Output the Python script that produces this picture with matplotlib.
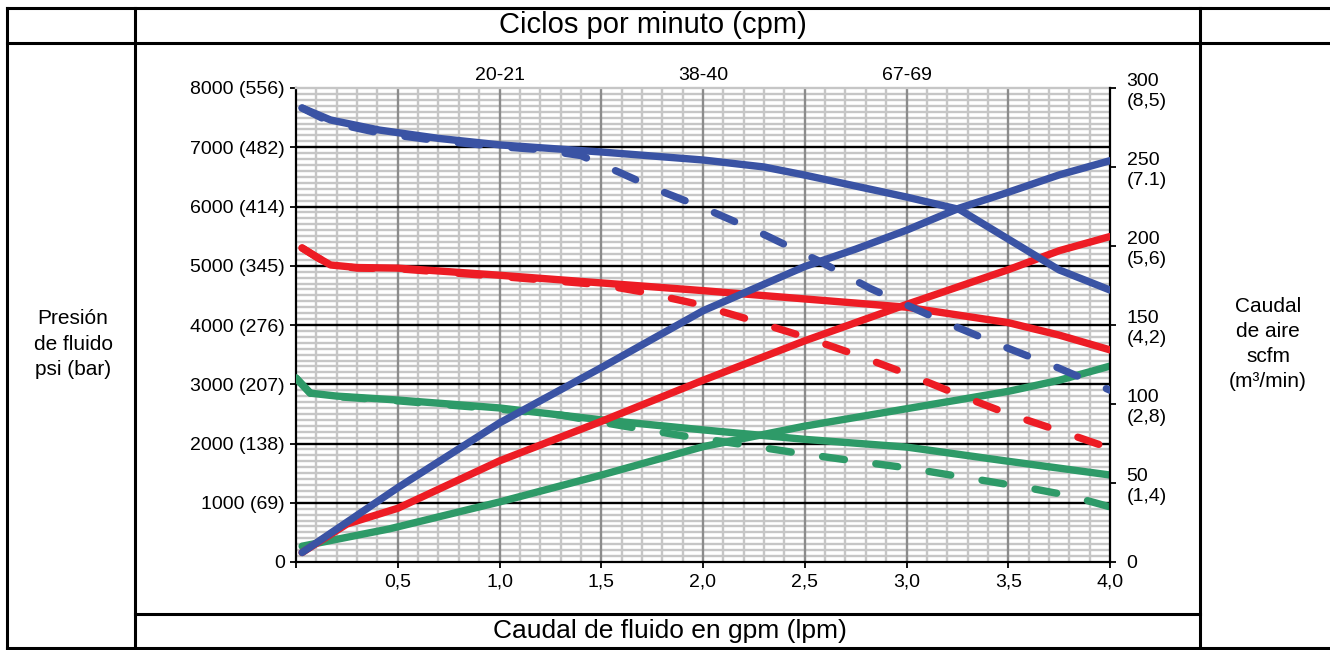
import matplotlib
matplotlib.use("Agg")
import matplotlib.pyplot as plt
from matplotlib.lines import Line2D
from matplotlib.ticker import MultipleLocator

plt.rcParams['font.family'] = ['Liberation Sans', 'DejaVu Sans']

# Fluid pressure curves (psi) vs fluid flow (gpm)
blue_p_x = [0.03, 0.17, 0.41, 0.7, 1.0, 1.5, 2.0, 2.3, 2.5, 2.77, 3.0, 3.26, 3.5, 3.75, 4.0]
blue_p_y = [7662, 7460, 7290, 7150, 7040, 6920, 6785, 6667, 6530, 6330, 6160, 5950, 5450, 4930, 4590]
blue_pd_x = [0.03, 0.17, 0.41, 0.7, 1.0, 1.2, 1.4, 1.6, 1.8, 2.0, 2.28, 2.57, 2.82, 3.16, 3.46, 3.75, 4.0]
blue_pd_y = [7662, 7420, 7240, 7110, 7010, 6960, 6860, 6560, 6250, 5980, 5560, 5080, 4620, 4090, 3660, 3270, 2900]

red_p_x = [0.03, 0.1, 0.17, 0.3, 0.5, 1.0, 1.5, 2.0, 2.5, 3.0, 3.5, 3.75, 4.0]
red_p_y = [5300, 5150, 5013, 4970, 4960, 4840, 4710, 4580, 4440, 4300, 4040, 3830, 3580]
red_pd_x = [0.03, 0.1, 0.17, 0.3, 0.5, 1.0, 1.5, 1.7, 1.95, 2.2, 2.48, 2.75, 3.0, 3.25, 3.5, 3.78, 4.0]
red_pd_y = [5300, 5150, 5013, 4960, 4950, 4820, 4680, 4560, 4370, 4120, 3820, 3500, 3180, 2830, 2500, 2180, 1920]

green_p_x = [0.0, 0.07, 0.2, 0.5, 1.0, 1.5, 2.0, 2.5, 3.0, 3.5, 4.0]
green_p_y = [3105, 2850, 2800, 2734, 2600, 2400, 2230, 2070, 1940, 1700, 1468]
green_pd_x = [0.0, 0.07, 0.2, 0.5, 1.0, 1.3, 1.6, 1.9, 2.2, 2.5, 2.8, 3.0, 3.3, 3.6, 3.8, 4.0]
green_pd_y = [3105, 2850, 2790, 2720, 2580, 2480, 2300, 2130, 1980, 1820, 1680, 1590, 1420, 1250, 1120, 930]

# Air consumption curves (scfm) vs fluid flow (gpm)
blue_a_x = [0.03, 0.5, 1.0, 1.5, 2.0, 2.5, 2.75, 3.0, 3.26, 3.5, 3.75, 4.0]
blue_a_y = [6, 47, 88, 123, 159, 187, 198, 210, 224, 234, 245, 254]
red_a_x = [0.03, 0.25, 0.5, 1.0, 1.5, 2.0, 2.5, 3.0, 3.5, 3.75, 4.0]
red_a_y = [6, 24, 34, 64, 89, 115, 140, 163, 185, 197, 206]
green_a_x = [0.03, 0.46, 1.0, 1.5, 2.0, 2.5, 3.0, 3.5, 3.75, 4.0]
green_a_y = [10, 21, 38, 55, 73, 86, 97, 108, 115, 124]

# tick labels
x_ticks = [0, 0.5, 1.0, 1.5, 2.0, 2.5, 3.0, 3.5, 4.0]
x_labels = ['', '0,5', '1,0', '1,5', '2,0', '2,5', '3,0', '3,5', '4,0']
psi_ticks = [0, 1000, 2000, 3000, 4000, 5000, 6000, 7000, 8000]
psi_labels = ['0', '1000 (69)', '2000 (138)', '3000 (207)', '4000 (276)',
              '5000 (345)', '6000 (414)', '7000 (482)', '8000 (556)']
air_ticks = [0, 50, 100, 150, 200, 250, 300]
air_labels = ['0', '50\n(1,4)', '100\n(2,8)', '150\n(4,2)', '200\n(5,6)',
              '250\n(7.1)', '300\n(8,5)']
cpm_labels = ['20-21', '38-40', '67-69']
cpm_x = [1.0, 2.0, 3.0]

BLUE = '#3a53a4'
RED = '#ed1c24'
GREEN = '#2e9a68'
MINOR = '#c6c6c6'

W, H = 1330, 650
fig = plt.figure(figsize=(W / 100, H / 100), dpi=100)

ax = fig.add_axes([296 / W, (H - 562) / H, 814 / W, 474 / H])
ax.set_xlim(0, 4)
ax.set_ylim(0, 8000)
ax.set_xticks(x_ticks)
ax.set_xticklabels(x_labels)
ax.set_yticks(psi_ticks)
ax.set_yticklabels(psi_labels)
ax.xaxis.set_minor_locator(MultipleLocator(0.1))
ax.yaxis.set_minor_locator(MultipleLocator(100))
ax.set_axisbelow(True)
ax.grid(which='minor', color=MINOR, lw=1.7)
# major grid: dark grey verticals, black horizontals on top
ax.vlines(x_ticks[1:-1], 0, 8000, color='#8c8c8c', lw=1.7, zorder=0.7)
ax.hlines(psi_ticks[1:-1], 0, 4, color='black', lw=1.7, zorder=0.8)
ax.tick_params(which='major', length=4, width=1.3, labelsize=14, pad=4)
ax.tick_params(which='minor', length=0)
for s in ['left', 'bottom']:
    ax.spines[s].set_linewidth(1.6)
ax.spines['top'].set_color(MINOR)
ax.spines['top'].set_linewidth(1.7)
ax.spines['right'].set_visible(False)

ax2 = ax.twinx()
ax2.set_ylim(0, 300)
ax2.set_yticks(air_ticks)
ax2.set_yticklabels(air_labels)
for t in ax2.get_yticklabels():
    t.set_linespacing(1.25)
ax2.tick_params(length=4, width=1.3, labelsize=14, pad=8)
ax2.spines['right'].set_linewidth(1.6)
for s in ['top', 'left', 'bottom']:
    ax2.spines[s].set_visible(False)

lw = 5.3
dash = (0, (3, 4.3))
psi = ax.transData
# pressure lines drawn in psi units, air lines in scfm units, all on ax2 to control stacking
for px, py, pdx, pdy, axx, axy, c, z in [
        (green_p_x, green_p_y, green_pd_x, green_pd_y, green_a_x, green_a_y, GREEN, 2),
        (red_p_x, red_p_y, red_pd_x, red_pd_y, red_a_x, red_a_y, RED, 3),
        (blue_p_x, blue_p_y, blue_pd_x, blue_pd_y, blue_a_x, blue_a_y, BLUE, 4)]:
    ax2.plot(pdx, pdy, color=c, lw=lw, ls=dash, dash_capstyle='round',
             solid_capstyle='round', transform=psi, zorder=z)
    ax2.plot(px, py, color=c, lw=lw, solid_capstyle='round',
             solid_joinstyle='round', transform=psi, zorder=z)
    ax2.plot(axx, axy, color=c, lw=lw, solid_capstyle='round',
             solid_joinstyle='round', zorder=z)
ax2.set_ylim(0, 300)
ax2.set_xlim(0, 4)

for lab, xv in zip(cpm_labels, cpm_x):
    ax.text(xv, 1.027, lab, transform=ax.get_xaxis_transform(),
            ha='center', va='center', fontsize=14)


# table frame around the chart
def hline(y, x0, x1):
    fig.add_artist(Line2D([x0 / W, x1 / W], [1 - y / H, 1 - y / H], color='black', lw=2.2))


def vline(x, y0, y1):
    fig.add_artist(Line2D([x / W, x / W], [1 - y0 / H, 1 - y1 / H], color='black', lw=2.2))


hline(8, 7, W)
hline(43, 7, W)
hline(614, 135, 1200)
hline(648, 7, W)
vline(7, 8, 648)
vline(135, 8, 648)
vline(1200, 8, 648)

fig.text(653 / W, 1 - 25 / H, 'Ciclos por minuto (cpm)', ha='center', va='center', fontsize=21)
fig.text(670 / W, 1 - 631 / H, 'Caudal de fluido en gpm (lpm)', ha='center', va='center', fontsize=19)
fig.text(73 / W, 1 - 344 / H, 'Presión\nde fluido\npsi (bar)', ha='center', va='center',
         fontsize=15, linespacing=1.42)
fig.text(1268 / W, 1 - 344 / H, 'Caudal\nde aire\nscfm\n(m³/min)', ha='center', va='center',
         fontsize=15, linespacing=1.4)

fig.savefig('out.png', dpi=100)
